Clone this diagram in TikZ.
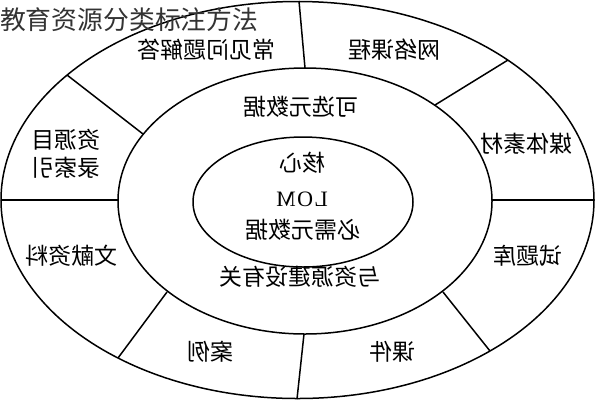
\documentclass[tikz,border=0pt]{standalone}
\usepackage{fontspec}
\usepackage{graphicx}
\newfontfamily\cjk{Noto Sans CJK SC}
\newfontfamily\lomfont{Liberation Serif}
\tikzset{
  ring/.style={line width=1.5pt, draw=black},
  divider/.style={line width=1.5pt, draw=black},
  lbl/.style={inner sep=0pt, font=\cjk\fontsize{23}{26}\selectfont, text=black},
  title/.style={inner sep=0pt, anchor=west, font=\cjk\fontsize{25.8}{28}\selectfont, text=black!80}
}
\begin{document}
\begin{tikzpicture}[x=1pt,y=-1pt]
\useasboundingbox (0,0) rectangle (596,400);
\fill[white] (0,0) rectangle (596,400);
% ellipses
\draw[ring] (297.5,200) ellipse [x radius=296.5pt, y radius=198.5pt];
\draw[ring] (305,201) ellipse [x radius=187pt, y radius=133pt];
\draw[ring] (303,202) ellipse [x radius=110pt, y radius=65pt];
% dividers
\coordinate (m1) at (305,68);  \coordinate (o1) at (299,1);
\coordinate (m2) at (435,105); \coordinate (o2) at (508,60);
\coordinate (m3) at (492,200); \coordinate (o3) at (594,200);
\coordinate (m4) at (443,292); \coordinate (o4) at (490,351);
\coordinate (m5) at (304,334); \coordinate (o5) at (297,399);
\coordinate (m6) at (167,292); \coordinate (o6) at (118,358);
\coordinate (m7) at (118,200); \coordinate (o7) at (1,200);
\coordinate (m8) at (143,134); \coordinate (o8) at (67,75);
\foreach \i in {1,...,8} \draw[divider] (m\i) -- (o\i);
% title
\node[title] (t) at (0,20) {教育资源分类标注方法};
% outer ring labels (mirrored)
\node[lbl] (a1) at (206,50) {\reflectbox{常见问题解答}};
\node[lbl] (a2) at (394,50) {\reflectbox{网络课程}};
\node[lbl] (a3) at (526,144) {\reflectbox{媒体素材}};
\node[lbl] (a4) at (528,256) {\reflectbox{试题库}};
\node[lbl] (a5) at (392,352) {\reflectbox{课件}};
\node[lbl] (a6) at (210,352) {\reflectbox{案例}};
\node[lbl] (a7) at (71,256) {\reflectbox{文献资料}};
\node[lbl] (a8a) at (66,140) {\reflectbox{资源目}};
\node[lbl] (a8b) at (66,168) {\reflectbox{录索引}};
% middle ring labels
\node[lbl] (b1) at (301,107) {\reflectbox{可选元数据}};
\node[lbl] (b2) at (300,277) {\reflectbox{与资源建设有关}};
% core
\node[lbl] (c1) at (302,163) {\reflectbox{核心}};
\node[inner sep=0pt, font=\lomfont\fontsize{22}{24}\selectfont\addfontfeature{LetterSpace=6}] (c2) at (302,199) {\reflectbox{LOM}};
\node[lbl] (c3) at (303,230) {\reflectbox{必需元数据}};
\end{tikzpicture}
\end{document}
